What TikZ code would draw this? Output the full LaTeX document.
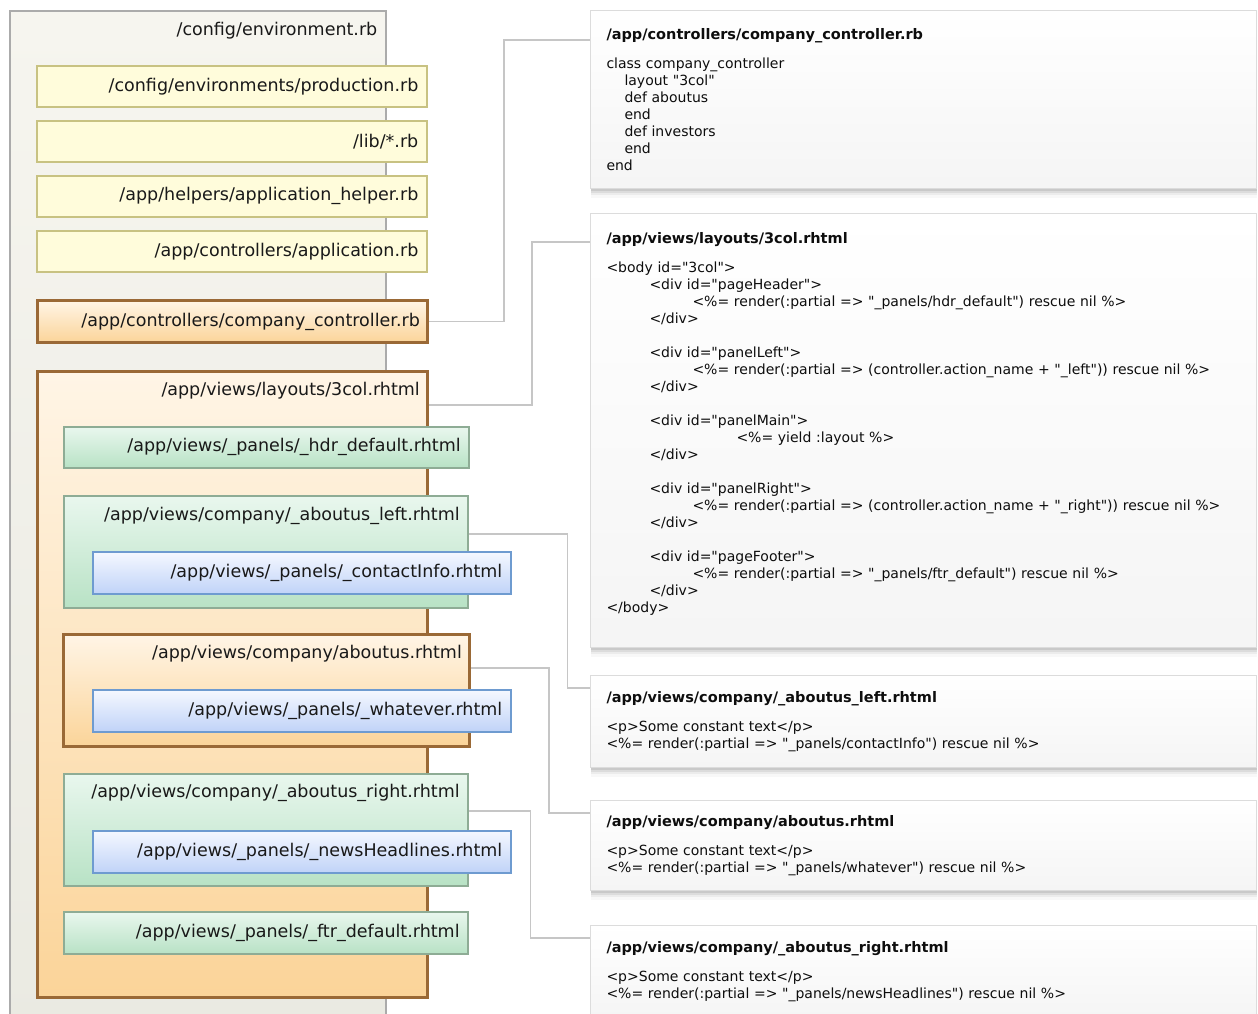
\documentclass[tikz,border=0pt]{standalone}
\usepackage{fontspec}
\newfontfamily\filefont{DejaVu Sans}
\newfontfamily\codefont[Ligatures=TeXOff]{DejaVu Sans}
\usetikzlibrary{shadows}

\definecolor{envtop}{HTML}{F6F5EF}
\definecolor{envbot}{HTML}{EAEAE2}
\definecolor{envline}{HTML}{ABABAB}
\definecolor{yelfill}{HTML}{FFFCDB}
\definecolor{yelline}{HTML}{C8C282}
\definecolor{ortop}{HTML}{FFF5E6}
\definecolor{orbot}{HTML}{FBD499}
\definecolor{orline}{HTML}{9A6936}
\definecolor{grtop}{HTML}{E9F7EE}
\definecolor{grbot}{HTML}{B8E2C5}
\definecolor{grline}{HTML}{8EAC95}
\definecolor{bltop}{HTML}{F5F8FF}
\definecolor{blbot}{HTML}{C0D3F8}
\definecolor{blline}{HTML}{6E9BD0}
\definecolor{codeline}{HTML}{DCDCDC}
\definecolor{linkgrey}{HTML}{C6C6C6}

\newcommand{\indnt}[1]{\hspace*{#1pt}}

\tikzset{
  filebox/.style={rectangle, anchor=north west, inner sep=0pt},
  envbox/.style={filebox, draw=envline, line width=1.5pt, top color=envtop, bottom color=envbot},
  yelbox/.style={filebox, draw=yelline, line width=1.5pt, fill=yelfill},
  orbox/.style={filebox, draw=orline, line width=3pt, top color=ortop, bottom color=orbot},
  grbox/.style={filebox, draw=grline, line width=1.8pt, top color=grtop, bottom color=grbot},
  blbox/.style={filebox, draw=blline, line width=1.5pt, top color=bltop, bottom color=blbot},
  fname/.style={anchor=east, xshift=-9pt, inner sep=0pt, text=black!90,
    font=\filefont\fontsize{17.5}{20}\selectfont},
  codebox/.style={rectangle, anchor=north west, draw=codeline, line width=1pt,
    top color=white, bottom color=black!4, text width=634pt, inner xsep=16pt,
    inner ysep=0pt, align=left, text=black!95,
    font=\codefont\fontsize{14}{17}\selectfont,
    drop shadow={shadow xshift=0pt, shadow yshift=-2pt, opacity=0.2},
    drop shadow={shadow xshift=0pt, shadow yshift=-4pt, opacity=0.15},
    drop shadow={shadow xshift=0pt, shadow yshift=-6pt, opacity=0.1},
    drop shadow={shadow xshift=0pt, shadow yshift=-9pt, opacity=0.06}},
  link/.style={draw=linkgrey, line width=1.3pt}
}
\newcommand{\codehead}[1]{{\bfseries\fontsize{14.5}{17}\selectfont #1}\\[12pt]}

\begin{document}
\begin{tikzpicture}[x=1pt, y=-1pt]
  \useasboundingbox (0,0) rectangle (1258,1013);
  \clip (0,0) rectangle (1258,1013);

  % environment and the files it loads
  \node[envbox, minimum width=376pt, minimum height=1030pt,
    label={[fname, yshift=-21pt]north east:/config/environment.rb}] (env) at (9,10) {};
  \node[yelbox, minimum width=390pt, minimum height=41pt,
    label={[fname]east:/config/environments/production.rb}] (prod) at (36,65) {};
  \node[yelbox, minimum width=390pt, minimum height=41pt,
    label={[fname]east:/lib/*.rb}] (lib) at (36,120) {};
  \node[yelbox, minimum width=390pt, minimum height=41pt,
    label={[fname]east:/app/helpers/application\_helper.rb}] (helper) at (36,175) {};
  \node[yelbox, minimum width=390pt, minimum height=41pt,
    label={[fname]east:/app/controllers/application.rb}] (appctrl) at (36,230) {};
  \node[orbox, minimum width=390pt, minimum height=42pt,
    label={[fname]east:/app/controllers/company\_controller.rb}] (compctrl) at (36,299) {};

  % layout and its partials
  \node[orbox, minimum width=390pt, minimum height=626pt,
    label={[fname, yshift=-21pt]north east:/app/views/layouts/3col.rhtml}] (layout) at (36,370) {};
  \node[grbox, minimum width=405pt, minimum height=41pt,
    label={[fname]east:/app/views/\_panels/\_hdr\_default.rhtml}] (hdr) at (63,426) {};
  \node[grbox, minimum width=404pt, minimum height=112pt,
    label={[fname, yshift=-21pt]north east:/app/views/company/\_aboutus\_left.rhtml}] (aboutleft) at (63,495) {};
  \node[blbox, minimum width=418pt, minimum height=42pt,
    label={[fname]east:/app/views/\_panels/\_contactInfo.rhtml}] (contact) at (92,551) {};
  \node[orbox, minimum width=406pt, minimum height=112pt,
    label={[fname, yshift=-21pt]north east:/app/views/company/aboutus.rhtml}] (aboutus) at (62,633) {};
  \node[blbox, minimum width=418pt, minimum height=42pt,
    label={[fname]east:/app/views/\_panels/\_whatever.rhtml}] (whatever) at (92,689) {};
  \node[grbox, minimum width=404pt, minimum height=112pt,
    label={[fname, yshift=-20pt]north east:/app/views/company/\_aboutus\_right.rhtml}] (aboutright) at (63,773) {};
  \node[blbox, minimum width=418pt, minimum height=42pt,
    label={[fname]east:/app/views/\_panels/\_newsHeadlines.rhtml}] (news) at (92,830) {};
  \node[grbox, minimum width=404pt, minimum height=42pt,
    label={[fname]east:/app/views/\_panels/\_ftr\_default.rhtml}] (ftr) at (63,911) {};

  % source listings
  \node[codebox, minimum height=178pt] (codectrl) at (590,10) {
    \codehead{/app/controllers/company\_controller.rb}
    class company\_controller\\
    \indnt{18}layout "3col"\\
    \indnt{18}def aboutus\\
    \indnt{18}end\\
    \indnt{18}def investors\\
    \indnt{18}end\\
    end
  };
  \node[codebox, minimum height=434pt] (codelayout) at (590,213) {
    \codehead{/app/views/layouts/3col.rhtml}
    <body id="3col">\\
    \indnt{43}<div id="pageHeader">\\
    \indnt{86}<\%= render(:partial => "\_panels/hdr\_default") rescue nil \%>\\
    \indnt{43}</div>\\[17pt]
    \indnt{43}<div id="panelLeft">\\
    \indnt{86}<\%= render(:partial => (controller.action\_name + "\_left")) rescue nil \%>\\
    \indnt{43}</div>\\[17pt]
    \indnt{43}<div id="panelMain">\\
    \indnt{130}<\%= yield :layout \%>\\
    \indnt{43}</div>\\[17pt]
    \indnt{43}<div id="panelRight">\\
    \indnt{86}<\%= render(:partial => (controller.action\_name + "\_right")) rescue nil \%>\\
    \indnt{43}</div>\\[17pt]
    \indnt{43}<div id="pageFooter">\\
    \indnt{86}<\%= render(:partial => "\_panels/ftr\_default") rescue nil \%>\\
    \indnt{43}</div>\\
    </body>\rule[-16pt]{0pt}{1pt}
  };
  \node[codebox, minimum height=92pt] (codeleft) at (590,675) {
    \codehead{/app/views/company/\_aboutus\_left.rhtml}
    <p>Some constant text</p>\\
    <\%= render(:partial => "\_panels/contactInfo") rescue nil \%>
  };
  \node[codebox, minimum height=90pt] (codeaboutus) at (590,800) {
    \codehead{/app/views/company/aboutus.rhtml}
    <p>Some constant text</p>\\
    <\%= render(:partial => "\_panels/whatever") rescue nil \%>
  };
  \node[codebox, minimum height=92pt] (coderight) at (590,925) {
    \codehead{/app/views/company/\_aboutus\_right.rhtml}
    <p>Some constant text</p>\\
    <\%= render(:partial => "\_panels/newsHeadlines") rescue nil \%>
  };

  % connectors
  \draw[link] (compctrl.east) -- ++(75,0) |- ([yshift=-30pt]codectrl.north west);
  \draw[link] ([yshift=-35pt]layout.north east) -- ++(103,0) |- ([yshift=-29pt]codelayout.north west);
  \draw[link] ([yshift=-39pt]aboutleft.north east) -- ++(99,0) |- ([yshift=-13pt]codeleft.north west);
  \draw[link] ([yshift=-35pt]aboutus.north east) -- ++(78,0) |- ([yshift=-13pt]codeaboutus.north west);
  \draw[link] ([yshift=-38pt]aboutright.north east) -- ++(62,0) |- ([yshift=-13pt]coderight.north west);
\end{tikzpicture}
\end{document}
